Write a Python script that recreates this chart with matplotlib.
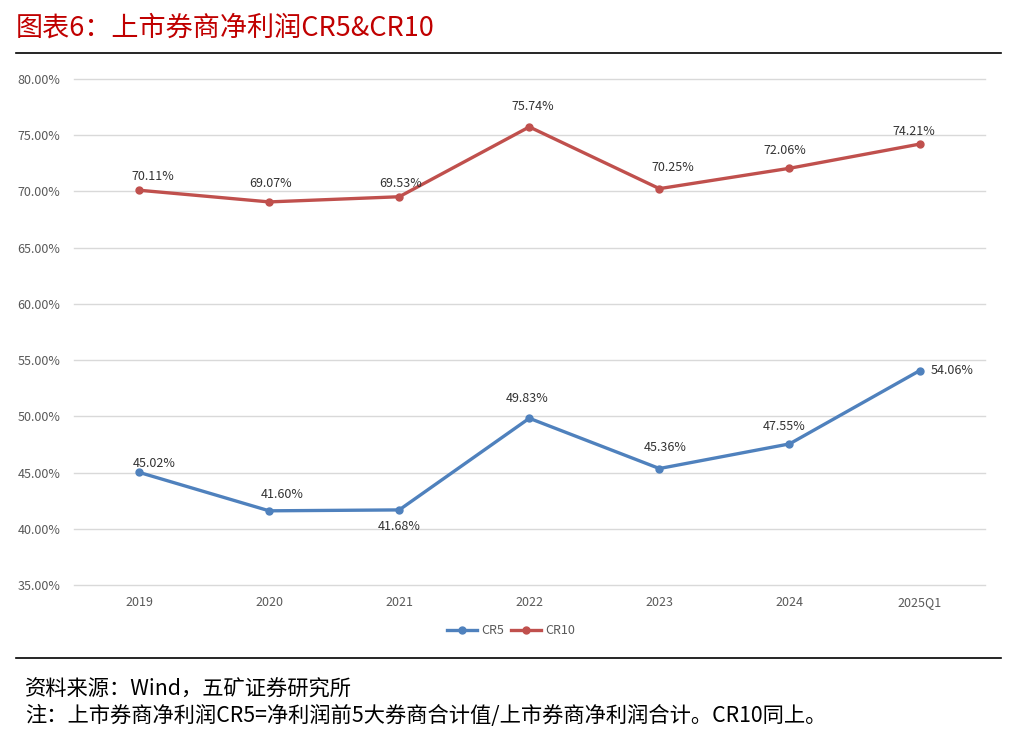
import matplotlib
matplotlib.use('Agg')
import matplotlib.pyplot as plt
from matplotlib.ticker import FuncFormatter

plt.rcParams['font.family'] = ['Noto Sans CJK SC', 'DejaVu Sans']

years = ['2019', '2020', '2021', '2022', '2023', '2024', '2025Q1']
cr5 = [45.02, 41.60, 41.68, 49.83, 45.36, 47.55, 54.06]
cr10 = [70.11, 69.07, 69.53, 75.74, 70.25, 72.06, 74.21]

# label offsets in pixels (dx, dy) from each point
cr5_off = [(15, 9), (13, 16), (0, -17), (-2, 20), (6, 21), (-5, 17), (33, 0)]
cr10_off = [(14, 14), (1, 18), (1, 13), (3, 20), (13, 21), (-5, 18), (-6, 13)]

blue = '#4F81BD'
red = '#C0504D'

fig = plt.figure(figsize=(10.14, 7.37), dpi=100)
ax = fig.add_axes([0.073, 0.2062, 0.898, 0.6866])

x = list(range(len(years)))
ax.plot(x, cr5, color=blue, lw=2.4, marker='o', ms=5, label='CR5')
ax.plot(x, cr10, color=red, lw=2.4, marker='o', ms=5, label='CR10')

for i in x:
    ax.annotate(f'{cr5[i]:.2f}%', (i, cr5[i]), xytext=cr5_off[i], textcoords='offset pixels',
                ha='center', va='center', fontsize=9, color='#333333')
    ax.annotate(f'{cr10[i]:.2f}%', (i, cr10[i]), xytext=cr10_off[i], textcoords='offset pixels',
                ha='center', va='center', fontsize=9, color='#333333')

ax.set_xlim(-0.5, len(years) - 0.5)
ax.set_ylim(35, 80)
ax.set_yticks([35, 40, 45, 50, 55, 60, 65, 70, 75, 80])
ax.yaxis.set_major_formatter(FuncFormatter(lambda v, p: f'{v:.2f}%'))
ax.set_xticks(x)
ax.set_xticklabels(years)
ax.tick_params(axis='both', length=0, labelsize=9, colors='#595959', pad=8)
ax.tick_params(axis='y', pad=10)
ax.grid(axis='y', color='#D9D9D9', lw=1)
for gl in ax.get_ygridlines():
    gl.set_clip_on(False)
ax.set_axisbelow(True)
for s in ax.spines.values():
    s.set_visible(False)

ax.legend(loc='upper center', bbox_to_anchor=(0.48, -0.055), ncol=2, frameon=False,
          fontsize=9, handlelength=2.4, columnspacing=0.6, handletextpad=0.3,
          labelcolor='#595959')

fig.text(0.016, 0.962, '图表6：上市券商净利润CR5&CR10', fontsize=19.5, color='#C00000', va='center')
fig.add_artist(plt.Line2D([0.016, 0.987], [0.928, 0.928], color='black', lw=1.2))
fig.add_artist(plt.Line2D([0.016, 0.987], [0.107, 0.107], color='black', lw=1.2))
fig.text(0.025, 0.064, '资料来源：Wind，五矿证券研究所', fontsize=15.3, color='black', va='center')
fig.text(0.025, 0.028, '注：上市券商净利润CR5=净利润前5大券商合计值/上市券商净利润合计。CR10同上。',
         fontsize=15.3, color='black', va='center')

fig.savefig('out.png', dpi=100)
